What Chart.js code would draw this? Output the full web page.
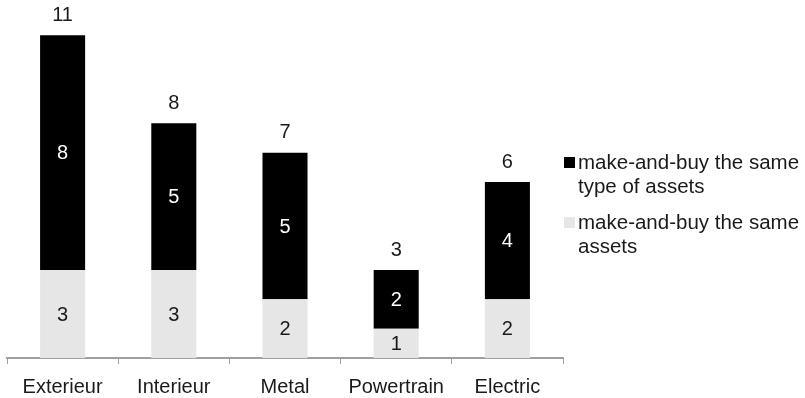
<!DOCTYPE html>
<html>
<head>
<meta charset="utf-8">
<script src="https://cdn.jsdelivr.net/npm/chart.js@4/dist/chart.umd.min.js"></script>
<style>
	html, body { margin: 0; padding: 0; background: #fff; }
	#wrap { width: 805px; height: 398px; }
</style>
</head>
<body>
<div id="wrap"><canvas id="chart1" width="805" height="398"></canvas></div>
<script>
	// data
	var categories = ['Exterieur', 'Interieur', 'Metal', 'Powertrain', 'Electric'];
	var sameAssets = [3, 3, 2, 1, 2];
	var sameTypeAssets = [8, 5, 5, 2, 4];
	var seriesNames = [
		['make-and-buy the same', 'type of assets'],
		['make-and-buy the same', 'assets']
	];

	var FONT = '"Liberation Sans", Arial, sans-serif';

	// segment values and totals
	var labelPlugin = {
		id: 'barLabels',
		afterDatasetsDraw: function(chart) {
			var ctx = chart.ctx;
			ctx.save();
			ctx.font = '20px ' + FONT;
			ctx.textAlign = 'center';
			ctx.textBaseline = 'middle';
			chart.data.datasets.forEach(function(ds, di) {
				var meta = chart.getDatasetMeta(di);
				meta.data.forEach(function(bar, i) {
					var v = ds.data[i];
					ctx.fillStyle = di === 1 ? '#ffffff' : '#1a1a1a';
					ctx.fillText(String(v), bar.x, (bar.y + bar.base) / 2 + 1);
				});
			});
			var top = chart.getDatasetMeta(1);
			top.data.forEach(function(bar, i) {
				ctx.fillStyle = '#1a1a1a';
				ctx.fillText(String(sameAssets[i] + sameTypeAssets[i]), bar.x, bar.y - 20);
			});
			ctx.restore();
		}
	};

	// legend with wrapped text
	var legendPlugin = {
		id: 'sideLegend',
		afterDraw: function(chart) {
			var ctx = chart.ctx;
			var items = [
				{ color: '#000000', lines: seriesNames[0], y: 162 },
				{ color: '#e6e6e6', lines: seriesNames[1], y: 222 }
			];
			ctx.save();
			ctx.font = '20.5px ' + FONT;
			ctx.textAlign = 'left';
			ctx.textBaseline = 'middle';
			items.forEach(function(it) {
				ctx.fillStyle = it.color;
				ctx.fillRect(564, it.y - 5, 11, 11);
				ctx.fillStyle = '#1a1a1a';
				it.lines.forEach(function(line, k) {
					ctx.fillText(line, 578, it.y + 1 + k * 24);
				});
			});
			ctx.restore();
		}
	};

	var config1 = {
		type: 'bar',
		data: {
			labels: categories,
			datasets: [
				{
					label: seriesNames[1].join(' '),
					data: sameAssets,
					backgroundColor: '#e6e6e6',
					categoryPercentage: 1,
					barPercentage: 0.405
				},
				{
					label: seriesNames[0].join(' '),
					data: sameTypeAssets,
					backgroundColor: '#000000',
					categoryPercentage: 1,
					barPercentage: 0.405
				}
			]
		},
		options: {
			responsive: false,
			animation: false,
			layout: {
				padding: { left: 7, right: 242, top: 6, bottom: -12 }
			},
			plugins: {
				legend: { display: false },
				tooltip: { enabled: false }
			},
			scales: {
				x: {
					stacked: true,
					offset: true,
					grid: {
						offset: true,
						drawOnChartArea: false,
						drawTicks: true,
						tickLength: 6,
						color: '#a0a0a0',
						lineWidth: 1
					},
					border: { color: '#a0a0a0', width: 2 },
					ticks: {
						color: '#1a1a1a',
						padding: 11,
						font: { family: FONT, size: 20 }
					}
				},
				y: {
					stacked: true,
					display: false,
					min: 0,
					max: 12
				}
			}
		},
		plugins: [labelPlugin, legendPlugin]
	};

	var chart1 = new Chart(document.getElementById('chart1'), config1);
</script>
</body>
</html>
